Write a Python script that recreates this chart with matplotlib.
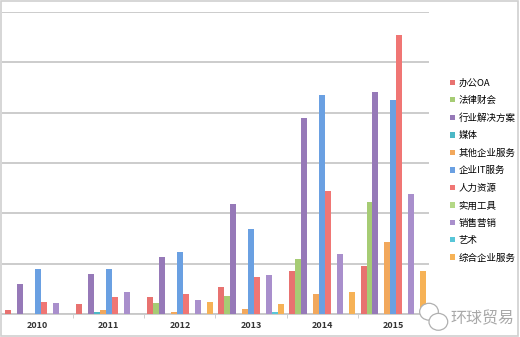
import numpy as np
import matplotlib.pyplot as plt
from matplotlib.patches import Rectangle, Ellipse

plt.rcParams['font.family'] = ['Noto Sans CJK SC', 'DejaVu Sans']

# Data (one gridline = 10 units)
years = ['2010', '2011', '2012', '2013', '2014', '2015']
series_names = ['办公OA', '法律财会', '行业解决方案', '媒体', '其他企业服务', '企业IT服务',
                '人力资源', '实用工具', '销售营销', '艺术', '综合企业服务']
office_oa = [0.8, 2.0, 3.4, 5.4, 8.5, 9.5]
legal_finance = [0, 0, 2.2, 3.6, 11.0, 22.3]
industry_solutions = [6.0, 8.0, 11.3, 21.9, 39.0, 44.1]
media = [0, 0.3, 0, 0, 0, 0]
other_services = [0, 0.8, 0.4, 0.9, 4.0, 14.4]
it_services = [8.9, 9.0, 12.4, 16.9, 43.5, 42.6]
hr = [2.4, 3.4, 4.0, 7.4, 24.5, 55.5]
tools = [0, 0, 0, 0, 0, 0]
sales_marketing = [2.2, 4.4, 2.8, 7.8, 12.0, 23.9]
art = [0, 0, 0, 0.3, 0, 0]
general_services = [0, 0, 2.4, 2.0, 4.4, 8.5]

values = [office_oa, legal_finance, industry_solutions, media, other_services, it_services,
          hr, tools, sales_marketing, art, general_services]
colors = ['#e87270', '#a6cc74', '#9679b8', '#4cb8c6', '#f2a85c', '#6aa0e2',
          '#f07674', '#b4d886', '#a98fcc', '#58c6d8', '#f6b256']

fig = plt.figure(figsize=(5.2, 3.37), dpi=100)
ax = fig.add_axes([2 / 520, 1 - 314 / 337, 427 / 520, (314 - 12) / 337])

x = np.arange(len(years))
w = 0.084
for i, (name, vals, c) in enumerate(zip(series_names, values, colors)):
    ax.bar(x + (i - 5) * w, vals, width=w, color=c, label=name, zorder=3)

ax.set_xlim(-0.5, len(years) - 0.5)
ax.set_ylim(0, 60)
ax.set_yticks(np.arange(0, 61, 10))
ax.yaxis.grid(True, color='#c8c8c8', linewidth=1.3, zorder=0)
ax.tick_params(axis='y', left=False, labelleft=False)
ax.set_xticks(x)
ax.set_xticklabels(years, fontsize=6.5, color='#333333', fontweight='bold')
ax.tick_params(axis='x', length=0, pad=5)
ax.set_xticks(np.arange(0.5, len(years) - 0.5, 1), minor=True)
ax.tick_params(axis='x', which='minor', length=3, color='#c8c8c8', direction='out')
for s in ['top', 'right', 'left']:
    ax.spines[s].set_visible(False)
ax.spines['bottom'].set_color('#c8c8c8')
ax.spines['bottom'].set_linewidth(1.3)

ax.legend(loc='center left', bbox_to_anchor=(0.858, 0.494), bbox_transform=fig.transFigure,
          frameon=False, fontsize=6.8, handlelength=0.5, handleheight=0.5,
          handletextpad=0.4, labelspacing=0.88, borderaxespad=0)

# watermark
fig.text(0.99, 0.055, '环球贸易', fontsize=11.5, color='#a8a8a8', ha='right', va='center')
fig.patches.append(Ellipse((0.825, 0.075), 0.036, 0.05, transform=fig.transFigure,
                           facecolor='white', edgecolor='#b0b0b0', linewidth=0.9, zorder=5))
fig.patches.append(Ellipse((0.843, 0.045), 0.036, 0.05, transform=fig.transFigure,
                           facecolor='white', edgecolor='#b0b0b0', linewidth=0.9, zorder=6))

# outer frame
fig.patches.append(Rectangle((0.002, 0.003), 0.994, 0.994, transform=fig.transFigure,
                             fill=False, edgecolor='#d0d0d0', linewidth=1.2))

plt.savefig('out.png', dpi=100)
plt.close()
